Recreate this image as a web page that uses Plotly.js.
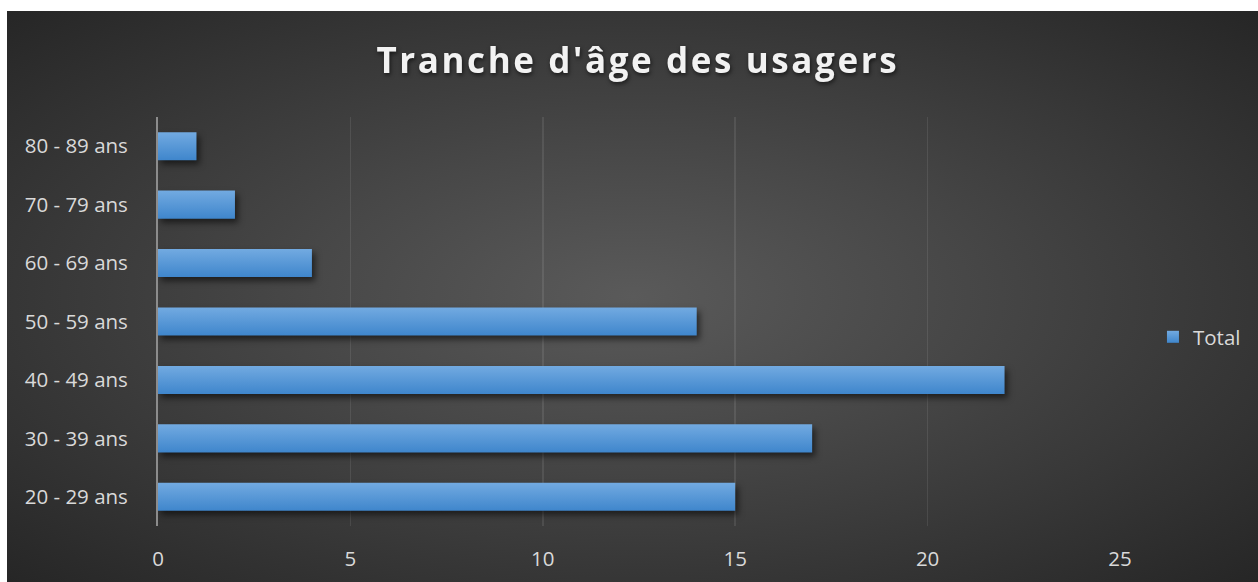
<!DOCTYPE html>
<html>
<head>
<meta charset="utf-8">
<script src="https://cdn.plot.ly/plotly-3.0.1.min.js"></script>
<style>
  html, body { margin:0; padding:0; background:#ffffff; width:1258px; height:582px; overflow:hidden; }
  #bg { position:absolute; left:7px; top:11px; width:1251px; height:571px;
        background: radial-gradient(ellipse farthest-corner at 50% 50%, #5a5a5a 0%, #474747 38%, #262626 100%); }
  #chart { position:absolute; left:0; top:0; width:1258px; height:582px; }
  .gtitle { letter-spacing: 2.6px; filter: drop-shadow(1px 2px 2px rgba(0,0,0,0.6)); }
  .barlayer .point path { fill: url(#barGrad) !important; filter: drop-shadow(3px 4px 3px rgba(0,0,0,0.55)); }
  .legend .legendpoints path { fill: url(#barGrad) !important; }
</style>
</head>
<body>
<svg width="0" height="0" style="position:absolute">
  <defs>
    <linearGradient id="barGrad" x1="0" y1="0" x2="0" y2="1">
      <stop offset="0%" stop-color="#72aae1"/>
      <stop offset="100%" stop-color="#3f86cc"/>
    </linearGradient>
  </defs>
</svg>
<div id="bg"></div>
<div id="chart"></div>
<script>
const categories = ["20 - 29 ans", "30 - 39 ans", "40 - 49 ans", "50 - 59 ans", "60 - 69 ans", "70 - 79 ans", "80 - 89 ans"];
const totals = [15, 17, 22, 14, 4, 2, 1];
const xTicks = [0, 5, 10, 15, 20, 25];
const seriesName = "Total";
const chartTitle = "Tranche d'âge des usagers";

const tickFont = { family: "Open Sans, sans-serif", size: 20.5, color: "#d9d9d9" };

const data = [{
  type: "bar",
  orientation: "h",
  y: categories,
  x: totals,
  name: seriesName,
  width: 0.48,
  marker: { color: "#5597d6", line: { width: 0 } },
  showlegend: true,
  hoverinfo: "x+y"
}];

const layout = {
  width: 1258,
  height: 582,
  paper_bgcolor: "rgba(0,0,0,0)",
  plot_bgcolor: "rgba(0,0,0,0)",
  margin: { l: 158, r: 138, t: 117, b: 56 },
  title: {
    text: "<b>" + chartTitle + "</b>",
    font: { family: "Open Sans, sans-serif", size: 35, color: "#f2f2f2" },
    x: 0.507, xref: "container", xanchor: "center",
    y: 0.895, yref: "container", yanchor: "middle"
  },
  xaxis: {
    range: [0, 25],
    tickvals: xTicks,
    ticktext: xTicks.map(String),
    showgrid: true,
    gridcolor: "rgba(255,255,255,0.09)",
    gridwidth: 1.5,
    zeroline: false,
    showline: false,
    ticks: "",
    tickfont: tickFont,
    ticklabelstandoff: 18,
    fixedrange: true
  },
  yaxis: {
    type: "category",
    categoryorder: "array",
    categoryarray: categories,
    showgrid: false,
    zeroline: false,
    showline: true,
    linecolor: "#8c8c8c",
    linewidth: 2,
    ticks: "",
    tickfont: tickFont,
    ticklabelstandoff: 24,
    fixedrange: true
  },
  legend: {
    x: 0.9165, xref: "container", xanchor: "left",
    y: 0.421, yref: "container", yanchor: "middle",
    font: tickFont,
    bgcolor: "rgba(0,0,0,0)",
    tracegroupgap: 0
  },
  bargap: 0.52,
  showlegend: true
};

Plotly.newPlot("chart", data, layout, { displayModeBar: false, staticPlot: true });
</script>
</body>
</html>
